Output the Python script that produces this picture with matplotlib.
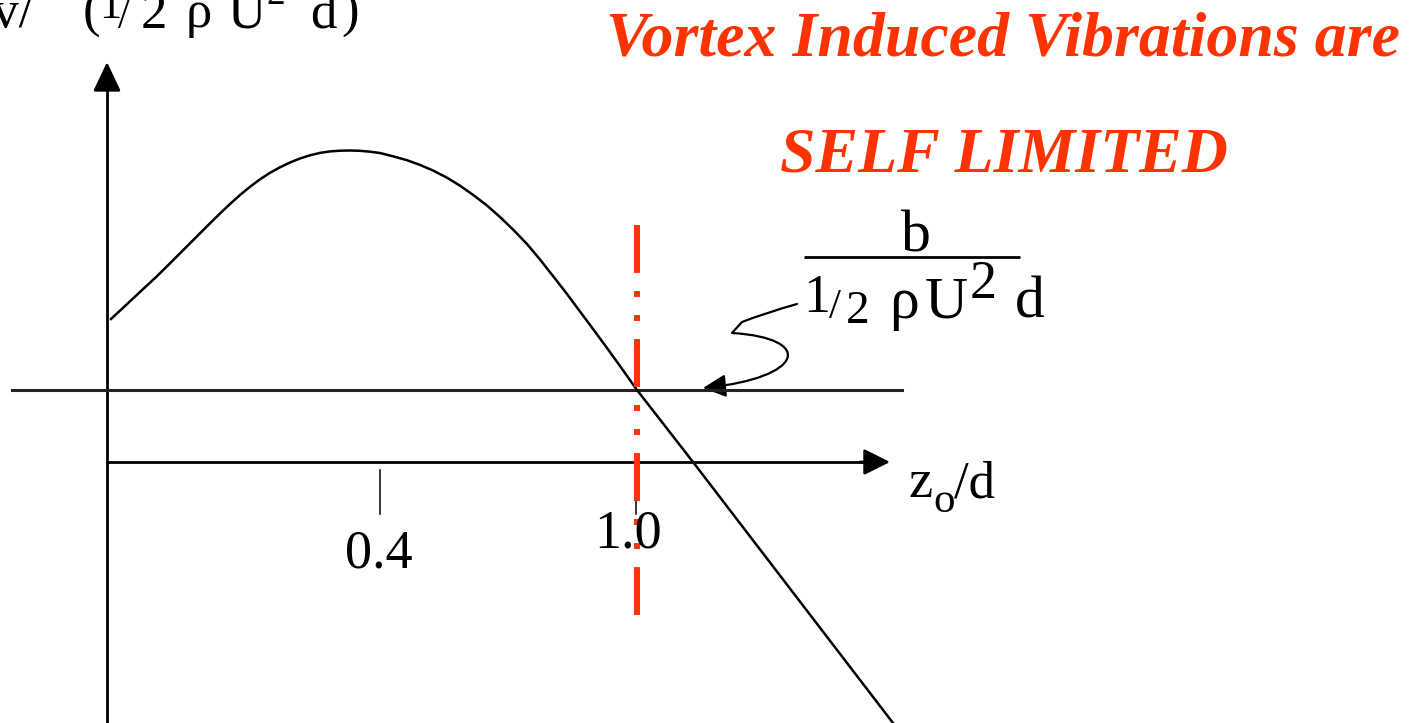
import matplotlib
matplotlib.use("Agg")
import matplotlib.pyplot as plt
from matplotlib.path import Path
from matplotlib.patches import FancyArrowPatch

plt.rcParams['font.family'] = ['Liberation Serif', 'DejaVu Serif']
plt.rcParams['lines.scale_dashes'] = False

# ---- data (diagram coordinates) ----
curve_x = [111, 122, 133, 145, 157, 168, 180, 190, 200, 210, 220, 230, 240, 250,
           260, 270, 280, 290, 300, 310, 320, 330, 340, 350, 360, 370, 380, 393,
           407, 420, 433, 447, 460, 473, 487, 500, 513, 527, 540, 553, 567, 580,
           593, 607, 620, 637, 693, 893]
curve_y = [319, 308.8, 298.5, 287.3, 276.2, 265.3, 253.3, 243.3, 233.3, 223.3,
           213.5, 204, 195, 186.8, 179.3, 172.8, 167.3, 162.5, 158.5, 155.3,
           152.9, 151.4, 150.7, 150.5, 150.8, 151.7, 153, 156.3, 160.2, 164.9,
           170.5, 177.7, 185.7, 194.8, 205.5, 217, 229.5, 244, 259.5, 276, 294,
           311.5, 329, 348, 366, 390, 462, 723]
tick_pos = [380, 636]
tick_labels = ['0.4', '1.0']
damping_level = 390
crit_amp = 637
title_lines = ['Vortex Induced Vibrations are', 'SELF LIMITED']

RED = '#FF3300'
W, H = 1412, 723
fig = plt.figure(figsize=(W / 100, H / 100), dpi=100)
ax = fig.add_axes([0, 0, 1, 1])
ax.set_xlim(0, W)
ax.set_ylim(H, 0)
ax.axis('off')

# axes
x0, y_axis = 107, 462
ax.plot([x0, x0], [H + 5, 75], color='black', lw=2.0, solid_capstyle='butt')
ax.annotate('', xy=(x0, 62), xytext=(x0, 90),
            arrowprops=dict(arrowstyle='-|>,head_length=18,head_width=8.5',
                            mutation_scale=1, color='black', lw=2.0,
                            shrinkA=0, shrinkB=0))
ax.plot([x0, 875], [y_axis, y_axis], color='black', lw=2.0, solid_capstyle='butt')
ax.annotate('', xy=(890, y_axis), xytext=(860, y_axis),
            arrowprops=dict(arrowstyle='-|>,head_length=16,head_width=8',
                            mutation_scale=1, color='black', lw=2.0,
                            shrinkA=0, shrinkB=0))

# damping line
ax.plot([12, 902], [damping_level, damping_level], color='#222222', lw=2.2)

# ticks and labels
for tp in tick_pos:
    ax.plot([tp, tp], [470, 514], color='black', lw=1.1)
ax.text(379, 567, tick_labels[0], fontsize=39, ha='center', va='baseline')
ax.text(628, 548, tick_labels[1], fontsize=39, ha='center', va='baseline')

# x label z_o/d
ax.text(908, 497, 'z', fontsize=39, ha='left', va='baseline')
ax.text(933, 512, 'o', fontsize=31, ha='left', va='baseline')
ax.text(954, 497, '/d', fontsize=38, ha='left', va='baseline')

# curve
ax.plot(curve_x, curve_y, color='black', lw=1.8, solid_joinstyle='round')

# red dash-dot-dot line
ax.plot([crit_amp, crit_amp], [225, 615], color=RED, lw=4.3,
        linestyle=(0, (34.5, 13, 4.3, 13, 4.3, 13)), dash_capstyle='butt')

# y label (clipped at top-left)
fs_y = 38
ax.text(34, 27, 'CLv/', fontsize=fs_y, ha='right', va='baseline')
ax.text(83, 27, '(', fontsize=fs_y, ha='left', va='baseline')
ax.text(99, 18, '1', fontsize=32, ha='left', va='baseline')
ax.text(118, 28, '/', fontsize=30, ha='left', va='baseline')
ax.text(141, 28, '2', fontsize=fs_y, ha='left', va='baseline')
ax.text(186, 27, 'ρ', fontsize=fs_y, ha='left', va='baseline')
ax.text(228, 27, 'U', fontsize=fs_y, ha='left', va='baseline')
ax.text(266, 4, '2', fontsize=27, ha='left', va='baseline')
ax.text(310, 27, 'd', fontsize=fs_y, ha='left', va='baseline')
ax.text(341, 27, ')', fontsize=fs_y, ha='left', va='baseline')

# fraction label b / (1/2 rho U^2 d)
fs_f = 43
ax.text(916, 252, 'b', fontsize=fs_f, ha='center', va='baseline')
ax.plot([804, 1020], [257, 257], color='black', lw=2.0, solid_capstyle='butt')
ax.text(803, 312, '1', fontsize=39, ha='left', va='baseline')
ax.text(829, 318, '/', fontsize=31, ha='left', va='baseline')
ax.text(846, 323, '2', fontsize=34, ha='left', va='baseline')
ax.text(889, 318, 'ρ', fontsize=fs_f, ha='left', va='baseline')
ax.text(925, 318, 'U', fontsize=fs_f, ha='left', va='baseline')
ax.text(970, 298, '2', fontsize=39, ha='left', va='baseline')
ax.text(1015, 318, 'd', fontsize=fs_f, ha='left', va='baseline')

# curly leader arrow
leader = Path([(797, 304), (765, 313), (742, 322), (732, 333),
               (815, 338), (805, 378), (703, 388)],
              [Path.MOVETO, Path.CURVE3, Path.CURVE3, Path.LINETO,
               Path.CURVE4, Path.CURVE4, Path.CURVE4])
arr = FancyArrowPatch(path=leader, arrowstyle='-|>,head_length=14,head_width=7',
                      mutation_scale=1, color='black', lw=1.6,
                      shrinkA=0, shrinkB=0, transform=ax.transData)
ax.add_patch(arr)

# red title
ax.text(1003, 55, title_lines[0], fontsize=46, color=RED, fontweight='bold',
        fontstyle='italic', ha='center', va='baseline')
ax.text(1004, 172, title_lines[1], fontsize=46, color=RED, fontweight='bold',
        fontstyle='italic', ha='center', va='baseline')

fig.savefig('out.png', dpi=100)
